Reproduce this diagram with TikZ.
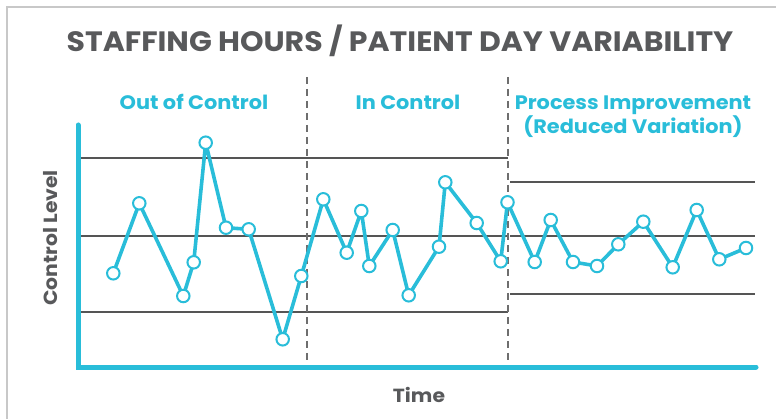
\documentclass[tikz,border=0pt]{standalone}
\usepackage{fontspec}
\setmainfont{Poppins}[FakeStretch=1.07]
\definecolor{cy}{HTML}{29BDD9}
\definecolor{gl}{HTML}{555555}
\definecolor{tx}{HTML}{58595B}
\definecolor{fr}{HTML}{C8C8C8}
\tikzset{
  pt/.style={circle,draw=cy,fill=white,line width=2pt,minimum size=12.5pt,inner sep=0pt},
  series/.style={draw=cy,line width=3.6pt,line join=round},
  limit/.style={draw=gl,line width=1.3pt},
  divider/.style={draw=gl!85,line width=1.2pt,dash pattern=on 7pt off 5pt},
  axis/.style={draw=cy,line width=5pt,line cap=round},
  sect/.style={text=cy,font=\bfseries\fontsize{19.5}{24}\selectfont,inner sep=0pt,anchor=base},
  lab/.style={text=tx,font=\bfseries\fontsize{19}{22}\selectfont,inner sep=0pt,anchor=base}
}
\begin{document}
\begin{tikzpicture}[x=1pt,y=-1pt]
\useasboundingbox (0,0) rectangle (776,419);
% frame
\draw[fr,line width=1.5pt] (7,419) -- (7,7) -- (776,7);
% title
\node[text=tx,font=\bfseries\fontsize{28}{32}\selectfont,inner sep=0pt,anchor=base] (title) at (400,52) {STAFFING HOURS / PATIENT DAY VARIABILITY};
% section labels
\node[sect] (s1) at (194,110) {Out of Control};
\node[sect] (s2) at (408,110) {In Control};
\node[sect] (s3) at (633,110) {Process Improvement};
\node[sect] (s4) at (633,134) {(Reduced Variation)};
% control limits
\coordinate (a1) at (80,158); \coordinate (a2) at (508,158);
\coordinate (b1) at (80,236); \coordinate (b2) at (508,236);
\coordinate (c1) at (80,312); \coordinate (c2) at (508,312);
\coordinate (d1) at (510,182); \coordinate (d2) at (755,182);
\coordinate (e1) at (510,236); \coordinate (e2) at (755,236);
\coordinate (f1) at (510,294); \coordinate (f2) at (755,294);
\draw[limit] (a1) -- (a2);
\draw[limit] (b1) -- (b2);
\draw[limit] (c1) -- (c2);
\draw[limit] (d1) -- (d2);
\draw[limit] (e1) -- (e2);
\draw[limit] (f1) -- (f2);
% dividers
\coordinate (v1t) at (307,77); \coordinate (v1b) at (307,366);
\coordinate (v2t) at (508,77); \coordinate (v2b) at (508,366);
\draw[divider] (v1t) -- (v1b);
\draw[divider] (v2t) -- (v2b);
% axes
\coordinate (ytop) at (78,125); \coordinate (orig) at (78,367); \coordinate (xend) at (756,367);
\draw[axis] (ytop) -- (orig) -- (xend);
% axis labels
\node[lab,rotate=90] (yl) at (57.5,238) {Control Level};
\node[lab] (xl) at (419,402) {Time};
% data points
\foreach \i/\x/\y in {1/113.3/273.3,2/139.3/203.3,3/183.3/296,4/193.7/262.3,5/205.7/142.7,
  6/226/227.7,7/248.7/229.3,8/282.7/339.3,9/301.3/276,10/323.3/199.3,
  11/346.7/252.7,12/361.3/211,13/369.3/266,14/392.7/230,15/408.7/295.3,
  16/439/246.7,17/445.3/182.3,18/476.7/223,19/500.7/261.3,20/507.5/202.3,
  21/534.7/262,22/550.7/220,23/573/262,24/597/266,25/618.3/244.3,
  26/643.3/221.7,27/672.7/267.3,28/696.7/210,29/719.3/259.3,30/746/248}
  \coordinate (c\i) at (\x,\y);
\draw[series] (c1) \foreach \i in {2,...,30} { -- (c\i) };
\foreach \i in {1,...,30} \node[pt] (p\i) at (c\i) {};
\end{tikzpicture}
\end{document}
